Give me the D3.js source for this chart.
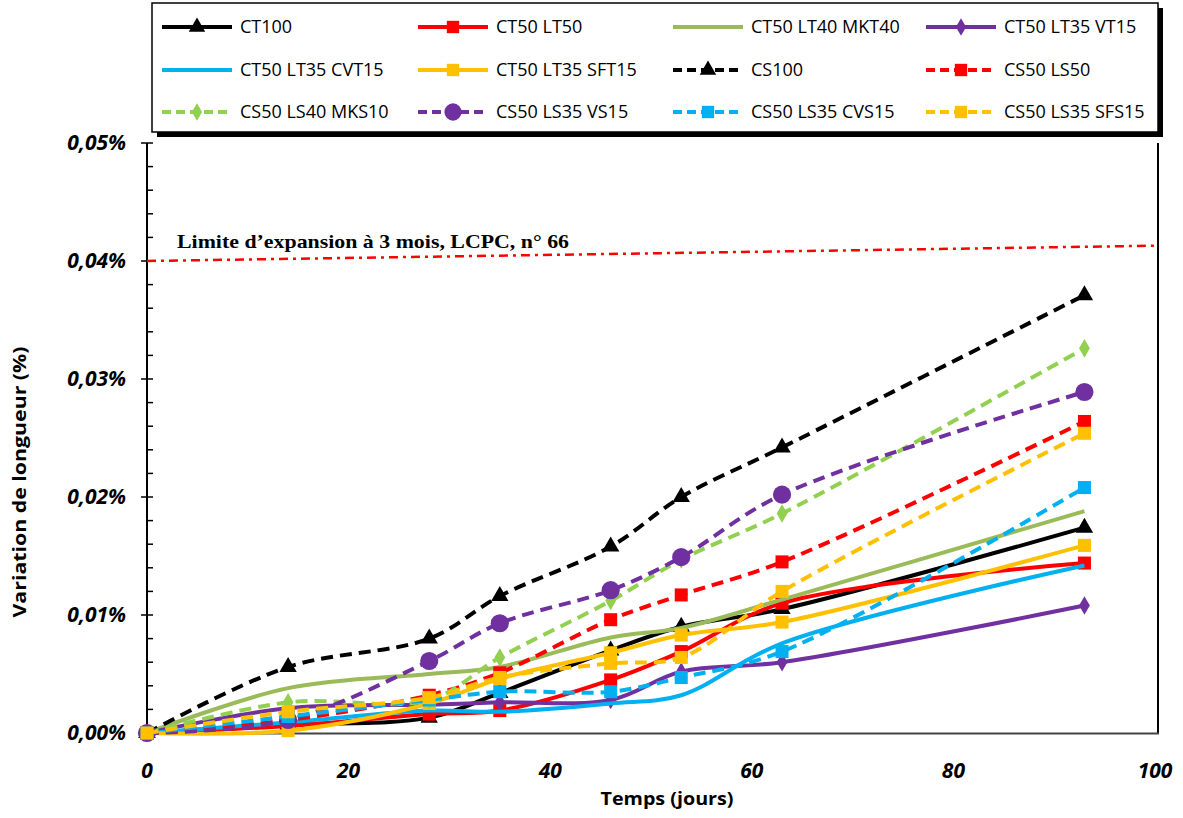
<!DOCTYPE html>
<html><head><meta charset="utf-8">
<script src="https://cdn.jsdelivr.net/npm/d3@7"></script>
<style>body{margin:0;background:#fff}svg{display:block}</style>
</head><body><svg id="c" width="1183" height="818"></svg>
<script>
const days = [0, 14, 28, 35, 46, 53, 63, 93];
const ct100      = [0, 0.0007, 0.0013, 0.0034, 0.0070, 0.0090, 0.0105, 0.0174];
const ct50lt50   = [0, 0.0006, 0.0016, 0.0019, 0.0045, 0.0069, 0.0110, 0.0144];
const ct50mkt40  = [0, 0.0038, 0.0050, 0.0056, 0.0081, 0.0089, 0.0113, 0.0188];
const ct50vt15   = [0, 0.0021, 0.0024, 0.0026, 0.0028, 0.0052, 0.0060, 0.0108];
const ct50cvt15  = [0, 0.0009, 0.0019, 0.0018, 0.0025, 0.0032, 0.0076, 0.0142];
const ct50sft15  = [0, 0.0002, 0.0025, 0.0046, 0.0068, 0.0083, 0.0094, 0.0159];
const cs100      = [0, 0.0056, 0.0080, 0.0116, 0.0158, 0.0200, 0.0242, 0.0371];
const cs50ls50   = [0, 0.0011, 0.0032, 0.0051, 0.0096, 0.0117, 0.0145, 0.0264];
const cs50mks10  = [0, 0.0026, 0.0028, 0.0064, 0.0112, 0.0147, 0.0186, 0.0326];
const cs50vs15   = [0, 0.0011, 0.0061, 0.0093, 0.0121, 0.0149, 0.0202, 0.0289];
const cs50cvs15  = [0, 0.0014, 0.0028, 0.0035, 0.0035, 0.0047, 0.0069, 0.0208];
const cs50sfs15  = [0, 0.0018, 0.0030, 0.0047, 0.0059, 0.0064, 0.0120, 0.0254];
const seriesNames = ["CT100","CT50 LT50","CT50 LT40 MKT40","CT50 LT35 VT15","CT50 LT35 CVT15","CT50 LT35 SFT15",
  "CS100","CS50 LS50","CS50 LS40 MKS10","CS50 LS35 VS15","CS50 LS35 CVS15","CS50 LS35 SFS15"];
const seriesValues = [ct100, ct50lt50, ct50mkt40, ct50vt15, ct50cvt15, ct50sft15, cs100, cs50ls50, cs50mks10, cs50vs15, cs50cvs15, cs50sfs15];
const seriesColors = ["#000000","#FF0000","#9BBB59","#7030A0","#00B0F0","#FFC000","#000000","#FF0000","#92D050","#7030A0","#00B0F0","#FFC000"];
const seriesDashed = [false,false,false,false,false,false,true,true,true,true,true,true];
const seriesMarkers = ["triangle","square","none","diamond","none","square","triangle","square","diamond","circle","square","square"];
const limitX = [0, 100];
const limitY = [0.0400, 0.0413];
const limitLabel = "Limite d\u2019expansion \u00e0 3 mois, LCPC, n\u00b0 66";
const xTicks = [0, 20, 40, 60, 80, 100];
const yTicks = [0, 0.01, 0.02, 0.03, 0.04, 0.05];
const yTickLabels = ["0,00%","0,01%","0,02%","0,03%","0,04%","0,05%"];

const svg = d3.select("#c");
const x = d3.scaleLinear().domain([0, 100]).range([147, 1155]);
const y = d3.scaleLinear().domain([0, 0.05]).range([733, 143]);

// axes
const axisFont = "'Open Sans', sans-serif";
svg.append("line").attr("x1",147).attr("x2",147).attr("y1",143).attr("y2",733).attr("stroke","#000").attr("stroke-width",2);
svg.append("line").attr("x1",1158).attr("x2",1158).attr("y1",143).attr("y2",734).attr("stroke","#000").attr("stroke-width",2);
svg.append("line").attr("x1",146).attr("x2",1159).attr("y1",733.5).attr("y2",733.5).attr("stroke","#444").attr("stroke-width",2);
const minor = d3.range(0, 0.0501, 0.002);
svg.selectAll(".mt").data(minor).enter().append("line")
  .attr("x1",147).attr("x2",153).attr("y1",d=>y(d)).attr("y2",d=>y(d)).attr("stroke","#000").attr("stroke-width",1.5);
svg.selectAll(".Mt").data(yTicks).enter().append("line")
  .attr("x1",141).attr("x2",147).attr("y1",d=>y(d)).attr("y2",d=>y(d)).attr("stroke","#000").attr("stroke-width",1.5);
svg.selectAll(".yl").data(yTicks).enter().append("text")
  .attr("x",126).attr("y",d=>y(d)+7).attr("text-anchor","end")
  .attr("font-family",axisFont).attr("font-weight","bold").attr("font-style","italic").attr("font-size",21)
  .text((d,i)=>yTickLabels[i]);
svg.selectAll(".xl").data(xTicks).enter().append("text")
  .attr("x",d=>x(d)).attr("y",778).attr("text-anchor","middle")
  .attr("font-family",axisFont).attr("font-weight","bold").attr("font-style","italic").attr("font-size",21)
  .text(d=>d);
svg.append("text").attr("x",667).attr("y",805).attr("text-anchor","middle")
  .attr("font-family",axisFont).attr("font-weight","bold").attr("font-size",18)
  .attr("textLength",133).attr("lengthAdjust","spacingAndGlyphs").text("Temps (jours)");
svg.append("text").attr("transform","translate(26,482) rotate(-90)").attr("text-anchor","middle")
  .attr("font-family",axisFont).attr("font-weight","bold").attr("font-size",18)
  .attr("textLength",271).attr("lengthAdjust","spacingAndGlyphs").text("Variation de longueur (%)");

// limit line
svg.append("line").attr("x1",x(limitX[0])).attr("x2",1158).attr("y1",y(limitY[0])).attr("y2",y(limitY[1]))
  .attr("stroke","#FF0000").attr("stroke-width",2.5).attr("stroke-dasharray","9,5,3,5");
svg.append("text").attr("x",177).attr("y",248).attr("font-family","'Liberation Serif', serif").attr("font-weight","bold")
  .attr("font-size",19).attr("textLength",392).attr("lengthAdjust","spacingAndGlyphs").text(limitLabel);

// series
const line = d3.line().x((d,i)=>x(days[i])).y(d=>y(d)).curve(d3.curveCatmullRom.alpha(0.5));
const symType = {triangle:d3.symbolTriangle, square:d3.symbolSquare, diamond:d3.symbolDiamond, circle:d3.symbolCircle};
const symSize = {triangle:130, square:170, diamond:100, circle:260};
seriesValues.forEach((vals,k)=>{
  const g = svg.append("g");
  g.append("path").attr("d",line(vals)).attr("fill","none").attr("stroke",seriesColors[k])
    .attr("stroke-width",4).attr("stroke-dasharray",seriesDashed[k]?"12,7":null);
  const m = seriesMarkers[k];
  if (m !== "none") {
    g.selectAll("path.m").data(vals).enter().append("path").attr("class","m")
      .attr("transform",(d,i)=>`translate(${x(days[i])},${y(d)})`)
      .attr("d",d3.symbol().type(symType[m]).size(symSize[m])).attr("fill",seriesColors[k]);
  }
});

// legend
const lg = svg.append("g");
lg.append("rect").attr("x",157).attr("y",8).attr("width",1006).attr("height",129).attr("fill","#000");
lg.append("rect").attr("x",152).attr("y",3).attr("width",1006).attr("height",129).attr("fill","#fff").attr("stroke","#000").attr("stroke-width",1.5);
const colX = [162, 418, 673, 926];
const rowY = [27, 70, 112];
seriesNames.forEach((name,k)=>{
  const cx = colX[k%4], cy = rowY[Math.floor(k/4)];
  lg.append("line").attr("x1",cx).attr("x2",cx+70).attr("y1",cy).attr("y2",cy).attr("stroke",seriesColors[k])
    .attr("stroke-width",4).attr("stroke-dasharray",seriesDashed[k]?"9,5":null);
  const m = seriesMarkers[k];
  if (m !== "none") lg.append("path").attr("transform",`translate(${cx+35},${cy})`)
    .attr("d",d3.symbol().type(symType[m]).size(symSize[m]*0.9)).attr("fill",seriesColors[k]);
  lg.append("text").attr("x",cx+78).attr("y",cy+6).attr("font-family","'Liberation Sans Narrow','Open Sans',sans-serif")
    .attr("font-size",18).text(name);
});
</script></body></html>
